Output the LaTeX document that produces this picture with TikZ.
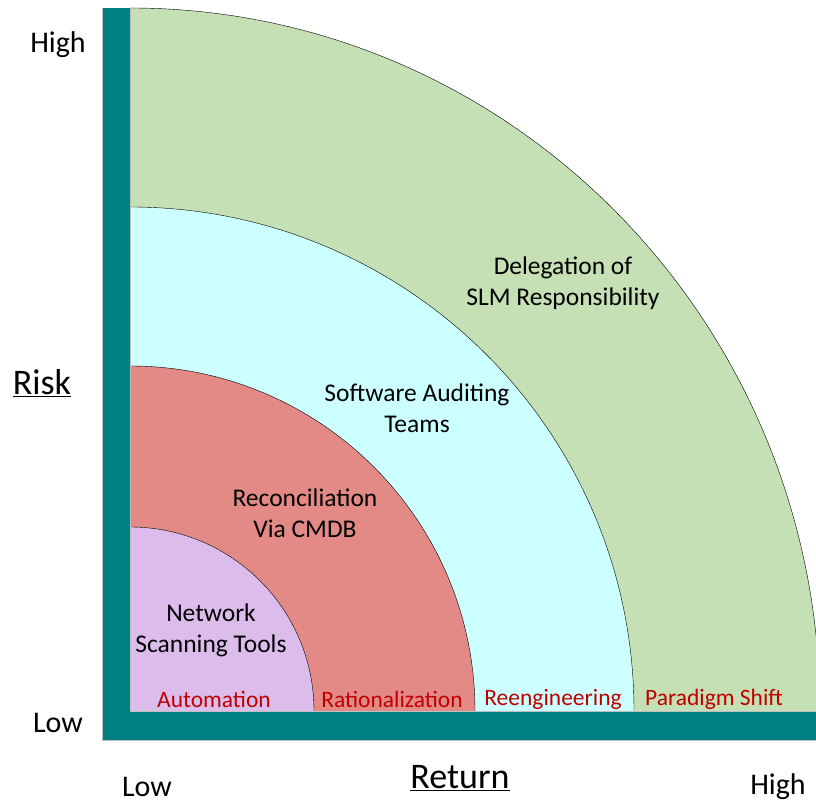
\documentclass[tikz,border=0pt]{standalone}
\usepackage{fontspec}
\setmainfont{Carlito}
\definecolor{teal0}{RGB}{0,128,128}
\definecolor{greenzone}{RGB}{197,224,180}
\definecolor{cyanzone}{RGB}{204,255,255}
\definecolor{redzone}{RGB}{227,138,135}
\definecolor{purplezone}{RGB}{220,188,235}
\definecolor{labelred}{RGB}{192,0,0}
\tikzset{
  zone/.style={draw=black,thin},
  zonetext/.style={align=center,font=\fontsize{25.5}{31}\selectfont},
  stage/.style={text=labelred,font=\fontsize{23.5}{26}\selectfont},
  axistext/.style={font=\fontsize{30}{33}\selectfont},
  axistitle/.style={font=\fontsize{36}{40}\selectfont}
}
\begin{document}
\begin{tikzpicture}[x=1pt,y=1pt]
\useasboundingbox (0,0) rectangle (816,803);

\begin{scope}
\clip (0,0) rectangle (816,803);
\fill[greenzone] (130,92) -- (130,795) arc[start angle=90,end angle=0,x radius=690,y radius=703] -- cycle;
\draw[zone] (130,795) arc[start angle=90,end angle=0,x radius=690,y radius=703];
\fill[cyanzone] (130,92) -- (130,596) arc[start angle=90,end angle=0,radius=504] -- cycle;
\draw[zone] (130,596) arc[start angle=90,end angle=0,radius=504];
\fill[redzone] (130,92) -- (130,437) arc[start angle=90,end angle=0,radius=345] -- cycle;
\draw[zone] (130,437) arc[start angle=90,end angle=0,radius=345];
\fill[purplezone] (130,92) -- (130,276) arc[start angle=90,end angle=0,radius=184] -- cycle;
\draw[zone] (130,276) arc[start angle=90,end angle=0,radius=184];
\end{scope}

% axes
\fill[teal0,draw=gray!50,line width=0.6pt] (102,63) rectangle (130,795);
\fill[teal0,draw=gray!50,line width=0.6pt] (102,63) rectangle (817,92);
\fill[teal0] (102.6,63.6) rectangle (129.7,795);

\node[zonetext] (slm) at (563,520) {Delegation of\\SLM Responsibility};
\node[zonetext] (audit) at (417,395) {Software Auditing\\Teams};
\node[zonetext] (cmdb) at (305,290) {Reconciliation\\Via CMDB};
\node[zonetext] (scan) at (211,173) {Network\\Scanning Tools};

\node[stage] (auto) at (214,104) {Automation};
\node[stage] (rat) at (392,104) {Rationalization};
\node[stage] (reeng) at (553,104) {Reengineering};
\node[stage] (shift) at (714,104) {Paradigm Shift};

\node[axistext] (yhigh) at (58,758) {High};
\node[axistext] (ylow) at (58,80) {Low};
\node[axistitle] (risk) at (42,420) {\underline{Risk}};
\node[axistitle] (ret) at (460,25) {\underline{Return}};
\node[axistext] (xlow) at (147,16) {Low};
\node[axistext] (xhigh) at (778,16) {High};
\end{tikzpicture}
\end{document}
